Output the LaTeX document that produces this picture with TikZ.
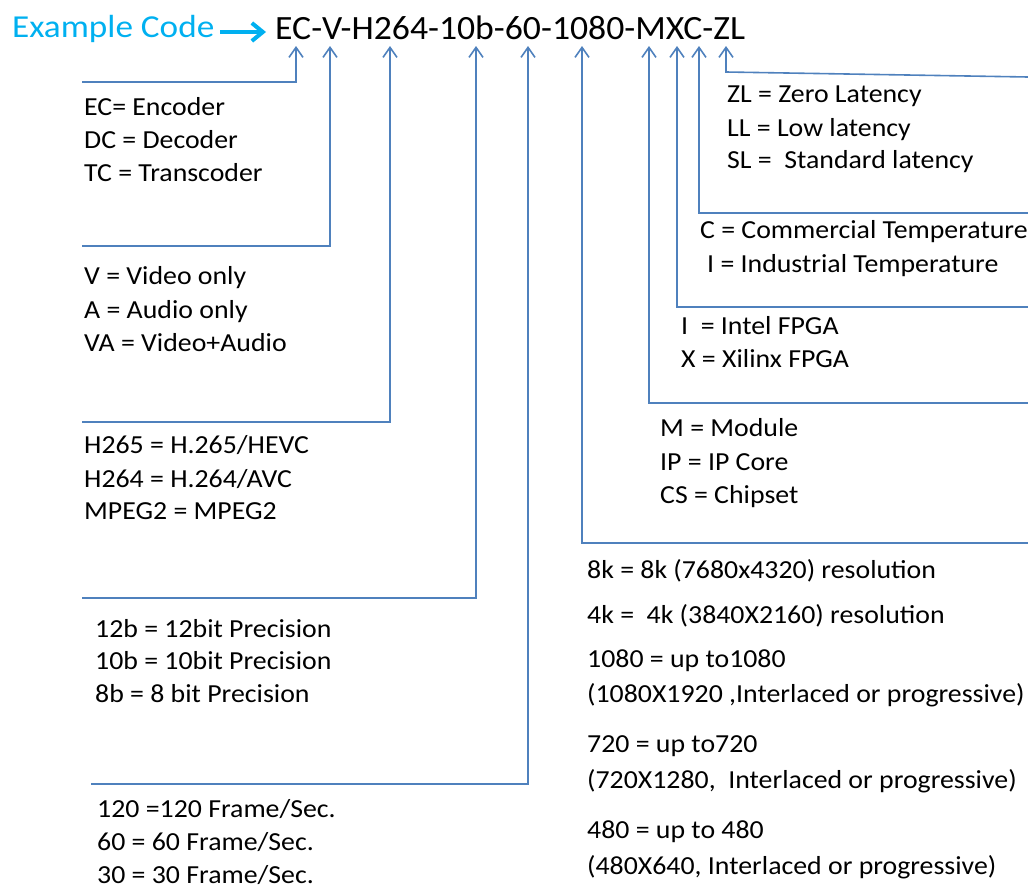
\documentclass[tikz,border=0pt]{standalone}
\usepackage{fontspec}
\setmainfont[FakeStretch=1.07]{Carlito}
\newfontfamily\titlefont[FakeStretch=1.05]{Carlito}
\newfontfamily\exfont[FakeStretch=1.1]{Carlito}
\usetikzlibrary{arrows.meta}
\definecolor{conncol}{RGB}{79,129,189}
\definecolor{excyan}{RGB}{0,176,240}
\tikzset{
  conn/.style={draw=conncol, line width=1.6pt, -{Straight Barb[length=10pt,width=14pt,line width=1.6pt]}},
  cyanarrow/.style={draw=excyan, line width=4pt, -{Straight Barb[length=11pt,width=18pt,line width=4pt]}},
  lbl/.style={anchor=base west, inner sep=0pt, font=\fontsize{26}{30}\selectfont},
  titletxt/.style={anchor=base west, inner sep=0pt, font=\titlefont\fontsize{34}{38}\selectfont},
  extxt/.style={anchor=base west, inner sep=0pt, text=excyan, font=\exfont\fontsize{32}{36}\selectfont}
}
\begin{document}
\begin{tikzpicture}[x=1pt,y=-1pt]
\useasboundingbox (0,0) rectangle (1028,889);
% title
\node[extxt] (ex) at (12,37) {Example Code};
\node[titletxt] (code) at (275,39) {EC-V-H264-10b-60-1080-MXC-ZL};
\coordinate (exa) at (220,32);
\coordinate (exb) at (266,32);
\draw[cyanarrow] (exa) -- (exb);
% arrow tips
\coordinate (tEC) at (296,46);
\coordinate (tV) at (330,46);
\coordinate (tH) at (390,46);
\coordinate (tB) at (476,46);
\coordinate (tF) at (528,46);
\coordinate (tR) at (582,46);
\coordinate (tM) at (649,46);
\coordinate (tX) at (677,46);
\coordinate (tC) at (699,46);
\coordinate (tZ) at (726,46);
% free ends
\coordinate (eEC) at (82,82);
\coordinate (eV) at (82,246);
\coordinate (eH) at (82,422);
\coordinate (eB) at (82,598);
\coordinate (eF) at (91,784);
\coordinate (eR) at (1028,543);
\coordinate (eM) at (1028,403);
\coordinate (eX) at (1028,307);
\coordinate (eC) at (1028,213);
\coordinate (eZ) at (1028,77);
\coordinate (cZ) at (726,72);
% connectors
\draw[conn] (eEC) -| (tEC);
\draw[conn] (eV) -| (tV);
\draw[conn] (eH) -| (tH);
\draw[conn] (eB) -| (tB);
\draw[conn] (eF) -| (tF);
\draw[conn] (eR) -| (tR);
\draw[conn] (eM) -| (tM);
\draw[conn] (eX) -| (tX);
\draw[conn] (eC) -| (tC);
\draw[conn] (eZ) -- (cZ) -- (tZ);
% left labels
\node[lbl] (l1) at (84,115) {EC= Encoder};
\node[lbl] (l2) at (84,148) {DC = Decoder};
\node[lbl] (l3) at (84,181) {TC = Transcoder};
\node[lbl] (l4) at (84,284) {V = Video only};
\node[lbl] (l5) at (84,318) {A = Audio only};
\node[lbl] (l6) at (84,351) {VA = Video+Audio};
\node[lbl] (l7) at (84,453) {H265 = H.265/HEVC};
\node[lbl] (l8) at (84,487) {H264 = H.264/AVC};
\node[lbl] (l9) at (84,519) {MPEG2 = MPEG2};
\node[lbl] (l10) at (95,637) {12b = 12bit Precision};
\node[lbl] (l11) at (95,669) {10b = 10bit Precision};
\node[lbl] (l12) at (95,702) {8b = 8 bit Precision};
\node[lbl] (l13) at (97,817) {120 =120 Frame/Sec.};
\node[lbl] (l14) at (97,850) {60 = 60 Frame/Sec.};
\node[lbl] (l15) at (97,883) {30 = 30 Frame/Sec.};
% right labels
\node[lbl] (r1) at (727,102) {ZL = Zero Latency};
\node[lbl] (r2) at (727,136) {LL = Low latency};
\node[lbl] (r3) at (727,168) {SL =\ \ Standard latency};
\node[lbl] (r4) at (700,238) {C = Commercial Temperature};
\node[lbl] (r5) at (707,272) {I = Industrial Temperature};
\node[lbl] (r6) at (681,334) {I\ \ = Intel FPGA};
\node[lbl] (r7) at (681,367) {X = Xilinx FPGA};
\node[lbl] (r8) at (660,436) {M = Module};
\node[lbl] (r9) at (660,470) {IP = IP Core};
\node[lbl] (r10) at (660,503) {CS = Chipset};
\node[lbl] (r11) at (587,578) {8k = 8k (7680x4320) resolution};
\node[lbl] (r12) at (587,623) {4k =\ \ 4k (3840X2160) resolution};
\node[lbl] (r13) at (587,667) {1080 = up to1080};
\node[lbl] (r14) at (587,702) {(1080X1920 ,Interlaced or progressive)};
\node[lbl] (r15) at (587,752) {720 = up to720};
\node[lbl] (r16) at (587,788) {(720X1280,\ \ Interlaced or progressive)};
\node[lbl] (r17) at (587,838) {480 = up to 480};
\node[lbl] (r18) at (587,874) {(480X640, Interlaced or progressive)};
\end{tikzpicture}
\end{document}
